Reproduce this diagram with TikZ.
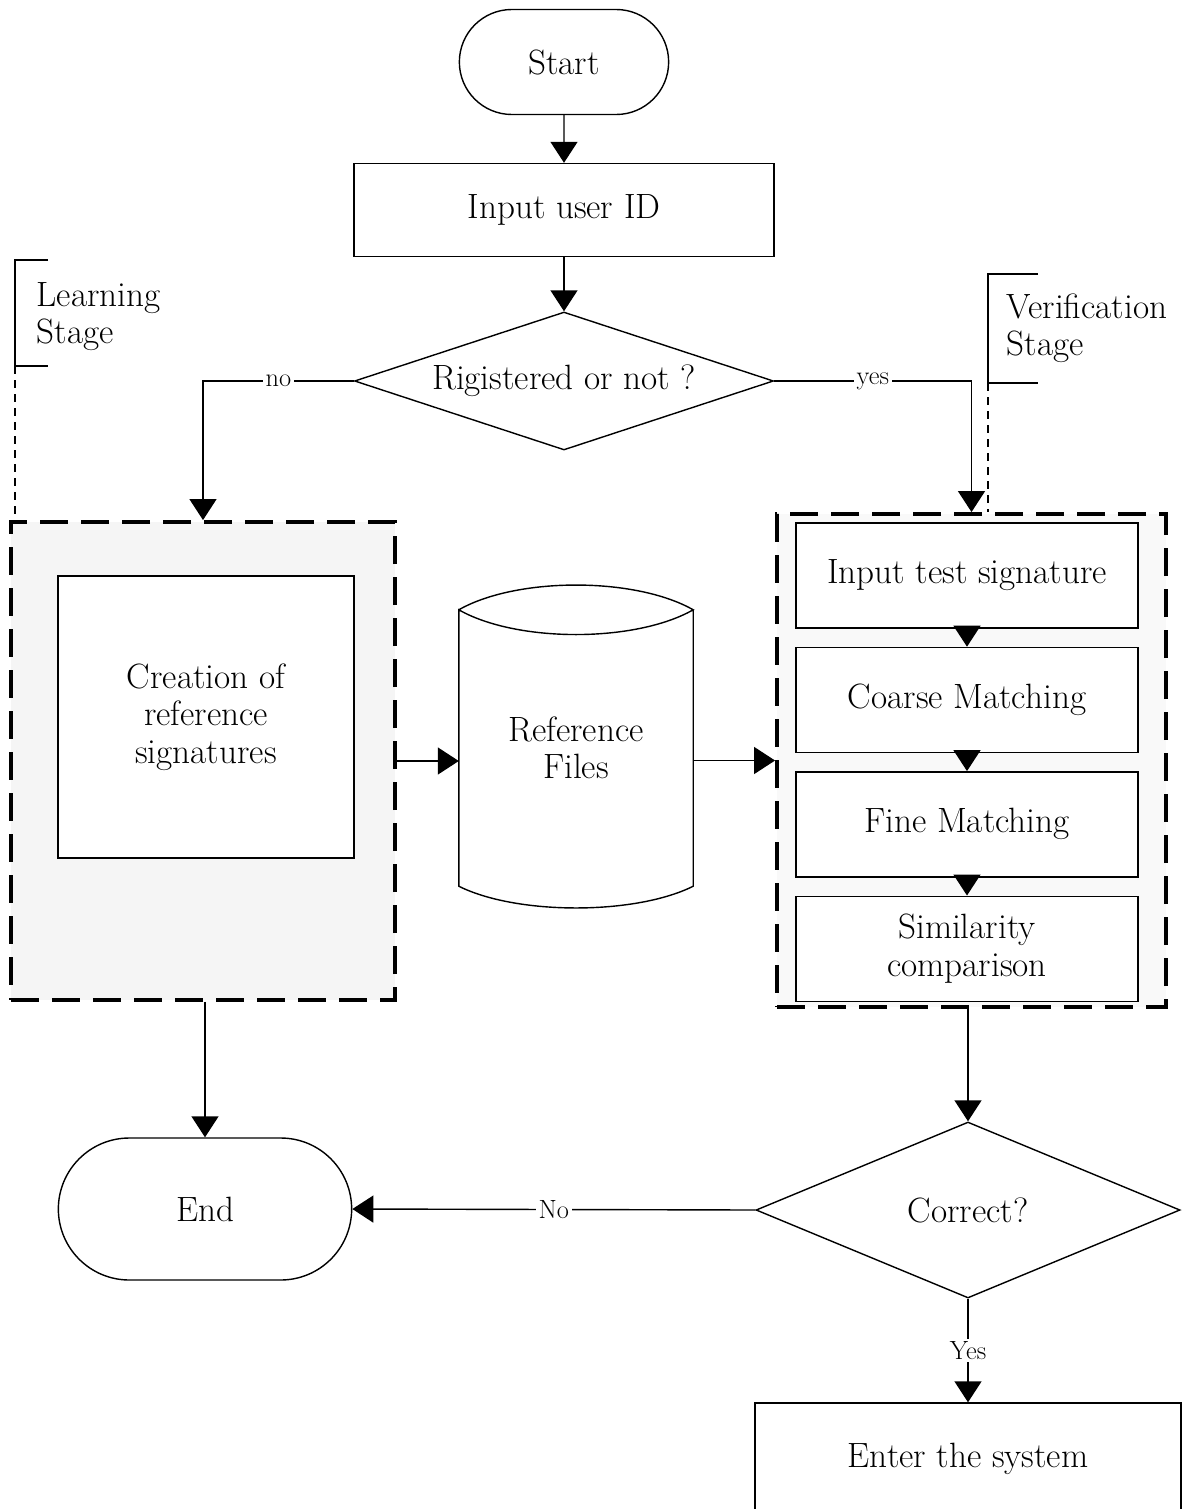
\documentclass[tikz,border=0pt]{standalone}
\usepackage{fontspec}
\usetikzlibrary{arrows.meta,positioning,shapes.geometric,shapes.misc}

\begin{document}
\begin{tikzpicture}[x=0.2mm, y=-0.2mm, line width=0.8pt,
  >={Triangle[width=5.4mm,length=4.2mm]},
  every node/.style={font=\fontsize{20}{21.2}\selectfont},
  box/.style={draw, fill=white, align=center},
  term/.style={draw, rounded rectangle, align=center},
  decision/.style={draw, diamond, inner sep=0pt},
  stagebox/.style={draw, line width=2.2pt, dash pattern=on 5.6mm off 2.6mm},
  lbl/.style={fill=white, inner sep=1.5pt, font=\fontsize{15}{17}\selectfont},
  leader/.style={line width=0.6pt, dash pattern=on 1.6mm off 1.2mm}]
\useasboundingbox (0,0) rectangle (1195,1509);
\clip (0,0) rectangle (1195,1509);

% main column
\node[term, minimum width=44.2mm, minimum height=21mm] (start) at (564,62) {Start};
\node[box, minimum width=84mm, minimum height=18.6mm] (uid) at (564,210) {Input user ID};
\node[decision, aspect=3, minimum width=83.8mm, minimum height=27.6mm] (reg) at (564,381) {Rigistered or not ?};

% learning stage
\node[stagebox, fill=gray!8, minimum width=76.8mm, minimum height=95.6mm] (learn) at (203,761) {};
\node[box, minimum width=59.2mm, minimum height=56.4mm] (create) at (206,717) {Creation of\\reference\\signatures};

% reference files store
\node[minimum width=46.6mm, minimum height=55mm, align=center] (files) at (576,748) {Reference\\Files};
\draw (files.north west) .. controls +(58,-33) and +(-58,-33) .. (files.north east)
      .. controls +(-58,33) and +(58,33) .. (files.north west) -- (files.south west)
      .. controls +(58,29) and +(-58,29) .. (files.south east) -- (files.north east);

% verification stage
\node[stagebox, fill=gray!5, minimum width=77.8mm, minimum height=98.6mm] (verif) at (971.5,760.5) {};
\node[box, minimum width=68.4mm, minimum height=21mm] (its) at (967,575.5) {Input test signature};
\node[box, minimum width=68.4mm, minimum height=21mm, below=3.6mm of its] (coarse) {Coarse Matching};
\node[box, minimum width=68.4mm, minimum height=21mm, below=3.6mm of coarse] (fine) {Fine Matching};
\node[box, minimum width=68.4mm, minimum height=21mm, below=3.6mm of fine] (simil) {Similarity\\comparison};

% lower part
\node[decision, aspect=2.4, minimum width=84.8mm, minimum height=35.2mm] (correct) at (968,1210) {Correct?};
\node[term, minimum width=61mm, minimum height=28.4mm] (finish) at (205,1209) {End};
\node[box, minimum width=85.2mm, minimum height=22.4mm] (enter) at (968,1459) {Enter the system};

% stage labels
\coordinate (lfoot) at (15,366);
\draw[line width=0.6pt] (48,260) -| (lfoot) -- ++(33,0);
\draw[leader] (lfoot) -- (lfoot |- learn.north);
\node[anchor=north west, inner sep=0pt, align=left] (lstage) at (36,282) {Learning\\Stage};
\coordinate (vfoot) at (988,383);
\draw[line width=0.6pt] (1038,274) -| (vfoot) -- ++(50,0);
\draw[leader] (vfoot) -- (vfoot |- verif.north);
\node[anchor=north west, inner sep=0pt, align=left] (vstage) at (1006,293) {Verification\\Stage};

% connectors
\draw[->] (start) -- (uid);
\draw[->] (uid) -- (reg);
\draw[->] (reg.west) -| node[lbl, pos=0.25] {no} (learn.north);
\draw[->] (reg.east) -| node[lbl, pos=0.25] {yes} (verif.north);
\draw[->] (learn.east) -- (learn.east -| files.west);
\draw[->] (files.east |- verif.west) -- (verif.west);
\foreach \a/\b in {its/coarse, coarse/fine, fine/simil}
  \draw[->] (\a) -- (\b);
\draw[->] (verif.south -| correct.north) -- (correct.north);
\draw[->] (learn.south -| finish.north) -- (finish.north);
\draw[->] (correct.west) -- node[lbl] {No} (finish.east);
\draw[->] (correct.south) -- node[lbl] {Yes} (enter.north);
\end{tikzpicture}
\end{document}
